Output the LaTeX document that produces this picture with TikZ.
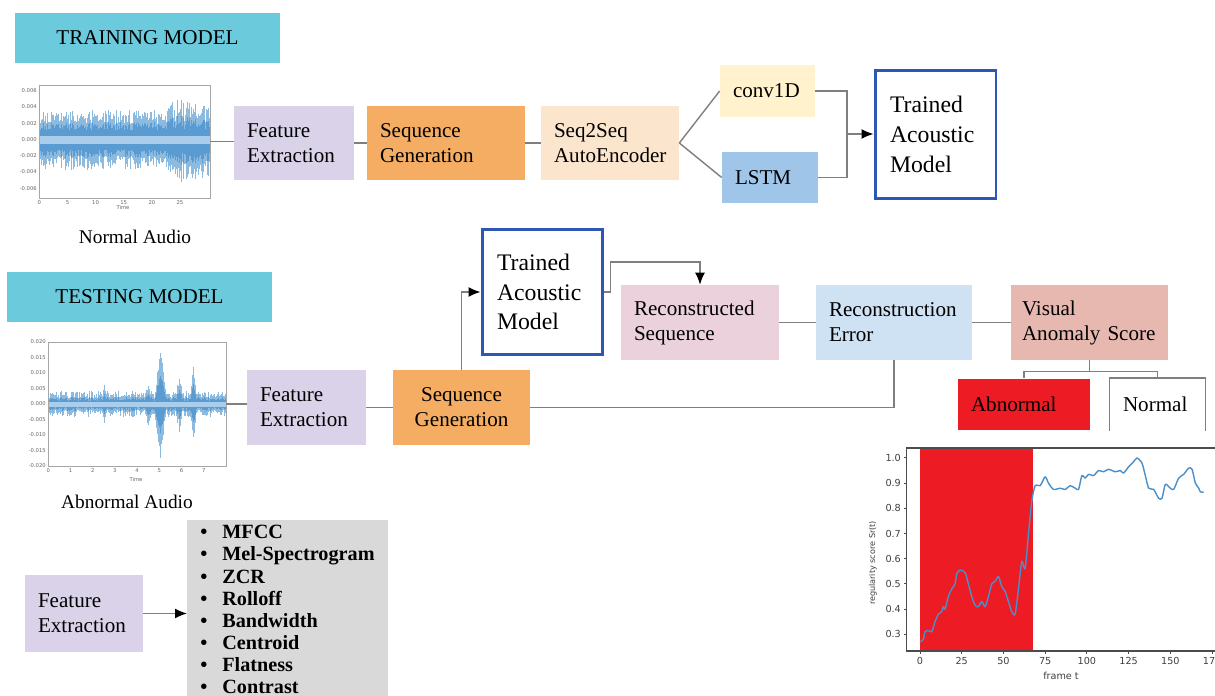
\documentclass[tikz,border=0pt]{standalone}
\usepackage{fontspec}
\setmainfont{Liberation Serif}
\newfontfamily\plotfont{DejaVu Sans}
\usetikzlibrary{arrows.meta}

\definecolor{tagcyan}{HTML}{6BCADB}
\definecolor{featlav}{HTML}{D9D2E9}
\definecolor{seqorange}{HTML}{F4AD62}
\definecolor{encpeach}{HTML}{FCE5CD}
\definecolor{convyellow}{HTML}{FFF2CC}
\definecolor{lstmblue}{HTML}{9FC5E8}
\definecolor{modelblue}{HTML}{2E57B5}
\definecolor{recpink}{HTML}{EAD1DC}
\definecolor{errblue}{HTML}{CFE2F3}
\definecolor{scorerose}{HTML}{E6B8AF}
\definecolor{alarmred}{HTML}{ED1C24}
\definecolor{listgray}{HTML}{D9D9D9}
\definecolor{linegray}{HTML}{7F7F7F}
\definecolor{wavelight}{HTML}{8DBBE0}
\definecolor{wavedark}{HTML}{5A9BD2}
\definecolor{wavecore}{HTML}{A9CDEB}
\definecolor{curveblue}{HTML}{4A8FC9}

\begin{document}
\begin{tikzpicture}[
  x=0.02cm, y=-0.02cm,
  block/.style={
    align=left,
    inner xsep=0.26cm,
    inner ysep=0pt,
    minimum height=1.5cm,
    font=\fontsize{12}{14.2}\selectfont
  },
  smallblock/.style={
    block,
    minimum height=1.04cm
  },
  modelblock/.style={
    draw=modelblue,
    line width=1.7pt,
    align=left,
    inner xsep=0.3cm,
    text width=1.82cm,
    font=\fontsize{13.5}{17}\selectfont
  },
  tagbar/.style={
    fill=tagcyan,
    minimum width=5.3cm,
    minimum height=1.02cm,
    font=\fontsize{12}{14}\selectfont
  },
  caption/.style={font=\fontsize{11}{13}\selectfont},
  plotbox/.style={draw=gray!70, line width=0.5pt, inner sep=0pt},
  ticklbl/.style={font=\plotfont\fontsize{3}{3.5}\selectfont, text=gray!80!black, inner sep=0.5pt},
  axlbl/.style={font=\plotfont\fontsize{5.5}{6.5}\selectfont, text=black!75, inner sep=1pt},
  line/.style={draw=linegray, line width=0.8pt},
  arrowline/.style={line, -{Latex[length=2.4mm,width=2mm,color=black]}}
]
\path[use as bounding box, fill=white] (0,0) rectangle (1215,696);

% --- Training model ---
\node[tagbar] (trainlbl) at (147.5,38) {TRAINING MODEL};

% normal audio waveform
\pgfmathsetseed{11}
\foreach \i in {0,...,170} {
  \pgfmathsetmacro\up{16+14*rnd+ifthenelse(\i>128,14*rnd,0)}
  \pgfmathsetmacro\dn{16+14*rnd+ifthenelse(\i>128,16*rnd,0)}
  \draw[wavelight, line width=0.65pt] (39.5+\i,140-\up) -- (39.5+\i,140+\dn);
  \draw[wavedark, line width=0.65pt] (39.5+\i,140-0.6*\up) -- (39.5+\i,140+0.6*\dn);
}
\fill[wavecore] (39.5,136) rectangle (209.5,144);
\node[plotbox, minimum width=3.42cm, minimum height=2.26cm] (wav1) at (124.5,141.5) {};
\foreach \k/\lbl in {0/0.006,1/0.004,2/0.002,3/0.000,4/-0.002,5/-0.004,6/-0.006}
  \node[ticklbl, anchor=east] (ny\k) at (38,90.7+16.27*\k) {\lbl};
\foreach \t in {0,5,...,25}
  \node[ticklbl, anchor=north] (nx\t) at (39.3+5.628*\t,199) {\t};
\node[ticklbl] (ntime) at (123,208) {Time};
\node[caption] (normcap) at (135,237) {Normal Audio};

\node[block, fill=featlav, text width=1.88cm] (fe1) at (294,143) {Feature\\Extraction};
\node[block, fill=seqorange, text width=2.64cm] (sg1) at (446,143) {Sequence\\Generation};
\node[block, fill=encpeach, text width=2.24cm] (s2s) at (610,143) {Seq2Seq\\AutoEncoder};
\node[smallblock, fill=convyellow, text width=1.38cm] (conv) at (767.5,91) {conv1D};
\node[smallblock, fill=lstmblue, text width=1.4cm] (lstm) at (770,177.5) {LSTM};
\node[modelblock, minimum height=2.58cm] (tam1) at (935.5,134.5) {Trained\\Acoustic\\Model};
\coordinate (merge) at (847,134);

\draw[line] (wav1.east) -- (wav1.east -| fe1.west);
\draw[line] (fe1) -- (sg1);
\draw[line] (sg1) -- (s2s);
\draw[line] (s2s.east) -- (conv.west);
\draw[line] (s2s.east) -- (lstm.west);
\draw[line] (conv.east) -| (merge);
\draw[line] (lstm.east) -| (merge);
\draw[arrowline] (merge) -- (merge -| tam1.west);

% --- Testing model ---
\node[tagbar] (testlbl) at (139.5,297) {TESTING MODEL};

% abnormal audio waveform
\pgfmathsetseed{23}
\foreach \i in {0,...,177} {
  \pgfmathsetmacro\bump{max(0,46-8*abs(\i-112))+max(0,30-9*abs(\i-145))+max(0,16-5*abs(\i-131))+max(0,12-4*abs(\i-100))+max(0,9-4*abs(\i-56))}
  \pgfmathsetmacro\up{6+7*rnd+\bump*(0.75+0.25*rnd)}
  \pgfmathsetmacro\dn{6+7*rnd+\bump*(0.75+0.25*rnd)}
  \draw[wavelight, line width=0.65pt] (48.5+\i,404-\up) -- (48.5+\i,404+\dn);
  \draw[wavedark, line width=0.65pt] (48.5+\i,404-0.55*\up) -- (48.5+\i,404+0.55*\dn);
}
\fill[wavecore] (48.5,401.5) rectangle (225.5,406.5);
\node[plotbox, minimum width=3.56cm, minimum height=2.48cm] (wav2) at (137,404) {};
\foreach \k/\lbl in {0/0.020,1/0.015,2/0.010,3/0.005,4/0.000,5/-0.005,6/-0.010,7/-0.015,8/-0.020}
  \node[ticklbl, anchor=east] (ay\k) at (47,341.7+15.5*\k) {\lbl};
\foreach \t in {0,...,7}
  \node[ticklbl, anchor=north] (ax\t) at (48.3+22.2*\t,467) {\t};
\node[ticklbl] (atime) at (136,480) {Time};
\node[caption] (abncap) at (127,502) {Abnormal Audio};

\node[block, fill=featlav, text width=1.86cm] (fe2) at (306.5,407.5) {Feature\\Extraction};
\node[block, fill=seqorange, align=center, text width=2.22cm] (sg2) at (461.5,407.5) {Sequence\\Generation};
\node[modelblock, minimum height=2.52cm] (tam2) at (542.5,292) {Trained\\Acoustic\\Model};
\node[block, fill=recpink, text width=2.64cm] (rseq) at (700,322.5) {Reconstructed\\Sequence};
\node[block, fill=errblue, text width=2.6cm] (rerr) at (894,322.5) {Reconstruction\\Error};
\node[block, fill=scorerose, inner xsep=0.22cm, text width=2.7cm] (vas) at (1089.5,322.5) {Visual\\Anomaly Score};
\node[smallblock, fill=alarmred, text width=2.12cm] (abn) at (1024,404.5) {Abnormal};
\node[smallblock, text width=1.38cm] (nrm) at (1157.5,404.5) {Normal};
\draw[linegray, line width=0.8pt] (nrm.south west) -- (nrm.north west) -- (nrm.north east) -- (nrm.south east);
\coordinate (bend) at (0,262);

\draw[line] (wav2.east) -- (wav2.east -| fe2.west);
\draw[line] (fe2) -- (sg2);
\draw[arrowline] (sg2.north) |- (tam2.west);
\draw[arrowline] (tam2.east) -- ++(6,0) |- (rseq.north |- bend) -- (rseq.north);
\draw[line] (rseq) -- (rerr);
\draw[line] (rerr) -- (vas);
\draw[line] (rerr.south) |- (sg2.east);
\draw[line] (vas.south) -- ++(0,11) -| (abn.north);
\draw[line] (vas.south) -- ++(0,11) -| (nrm.north);

% --- Features used ---
\node[block, fill=featlav, text width=1.84cm, minimum height=1.54cm] (fe3) at (84,613.5) {Feature\\Extraction};
\node[fill=listgray, anchor=north west, align=left, text width=3.5cm, inner xsep=0.26cm, inner ysep=0.1cm,
  font=\fontsize{11.5}{12.6}\selectfont\bfseries] (feats) at (187,520)
  {\makebox[0.44cm][l]{\textbullet}MFCC\\
   \makebox[0.44cm][l]{\textbullet}Mel-Spectrogram\\
   \makebox[0.44cm][l]{\textbullet}ZCR\\
   \makebox[0.44cm][l]{\textbullet}Rolloff\\
   \makebox[0.44cm][l]{\textbullet}Bandwidth\\
   \makebox[0.44cm][l]{\textbullet}Centroid\\
   \makebox[0.44cm][l]{\textbullet}Flatness\\
   \makebox[0.44cm][l]{\textbullet}Contrast};
\draw[arrowline] (fe3.east) -- (fe3.east -| feats.west);

% --- Regularity score plot ---
\fill[alarmred] (920,448) rectangle (1032.7,651);
\draw[black!70, line width=0.6pt] (1225,448) -- (906.7,448) -- (906.7,651) -- (1225,651);
\foreach \t in {0,25,...,175} {
  \draw[black!70, line width=0.5pt] (920+1.669*\t,651) -- (920+1.669*\t,654);
  \node[axlbl, anchor=north] (fx\t) at (920+1.669*\t,655) {\t};
}
\foreach \k/\lbl in {3/0.3,4/0.4,5/0.5,6/0.6,7/0.7,8/0.8,9/0.9,10/1.0} {
  \draw[black!70, line width=0.5pt] (906.7,709.9-25.2*\k) -- (903.7,709.9-25.2*\k);
  \node[axlbl, anchor=east] (fy\k) at (903,709.9-25.2*\k) {\lbl};
}
\node[axlbl] (framelbl) at (1061,676) {frame t};
\node[axlbl, rotate=90, font=\plotfont\fontsize{4.6}{5}\selectfont] (scorelbl) at (873,563) {regularity score Sr(t)};
\begin{scope}[shift={(920,709.9)}, x=0.03338cm, y=5.04cm]
\draw[curveblue, line width=0.8pt, line join=round] plot[smooth, tension=0.4] coordinates {
  (0,0.27) (2,0.28) (3,0.31) (5,0.315) (7,0.31) (9,0.35) (11,0.38) (13,0.39) (14,0.41)
  (15,0.40) (17,0.45) (19,0.48) (21,0.50) (22,0.54) (24,0.555) (27,0.545) (29,0.50)
  (31,0.45) (33,0.415) (35,0.41) (37,0.43) (39,0.41) (41,0.45) (43,0.50) (45,0.51)
  (47,0.53) (49,0.49) (51,0.47) (53,0.43) (55,0.39) (57,0.38) (59,0.48) (61,0.59)
  (63,0.56) (65,0.70) (67,0.83) (69,0.89) (72,0.89) (75,0.925) (77,0.90) (80,0.875)
  (84,0.88) (87,0.875) (90,0.89) (93,0.88) (95,0.875) (97,0.93) (99,0.92) (101,0.935)
  (104,0.93) (107,0.95) (110,0.945) (113,0.955) (117,0.945) (120,0.95) (122,0.94)
  (125,0.965) (128,0.985) (130,1.00) (133,0.98) (135,0.93) (137,0.88) (140,0.875)
  (143,0.84) (145,0.84) (147,0.895) (150,0.88) (152,0.875) (155,0.92) (158,0.935)
  (161,0.96) (163,0.955) (165,0.90) (167,0.88) (168,0.865) (170,0.865)};
\end{scope}

\end{tikzpicture}
\end{document}
